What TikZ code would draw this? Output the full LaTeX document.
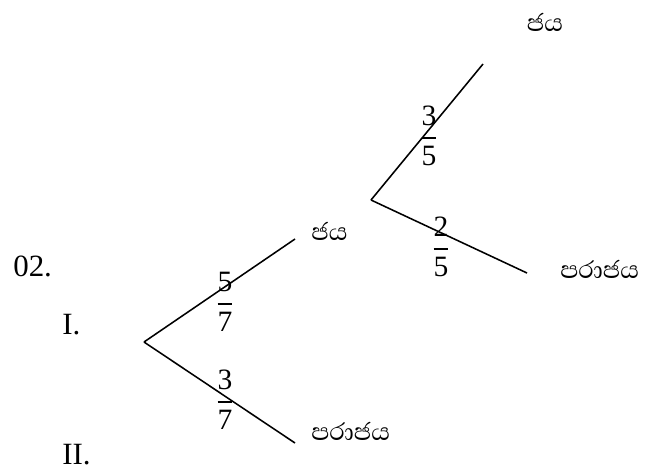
\documentclass[tikz,border=0pt]{standalone}
\usepackage{amsmath}
\usepackage{fontspec}
\setmainfont{Liberation Serif}
\newfontfamily\sinhala[Script=Sinhala]{Abhaya Libre}
\newcommand\pfrac[2]{$\genfrac{}{}{1.3pt}{0}{\textnormal{#1}}{\textnormal{#2}}$}
\tikzset{
  branch/.style={line width=1.1pt},
  outcome/.style={inner sep=0pt, font=\sinhala\fontsize{22}{24}\selectfont},
  prob/.style={inner sep=0pt, font=\fontsize{21}{24}\selectfont},
  qlabel/.style={inner sep=0pt, anchor=west, font=\fontsize{22}{24}\selectfont}
}
\begin{document}
\begin{tikzpicture}[x=0.025cm,y=-0.025cm]
\useasboundingbox (0,0) rectangle (648,475);
% question numbering
\node[qlabel] (q) at (13,266) {02.};
\node[qlabel] (qa) at (62,325) {I.};
\node[qlabel] (qb) at (62,455) {II.};
% first stage
\coordinate (r) at (144,342);
\coordinate (w1) at (295,239);
\coordinate (l1) at (295,443);
\draw[branch] (r) -- (w1);
\draw[branch] (r) -- (l1);
\node[outcome, anchor=west] (w1t) at (311,231) {ජය};
\node[outcome, anchor=west] (l1t) at (311,431) {පරාජය};
\node[prob] (p1) at (225,302) {\pfrac{5}{7}};
\node[prob] (p2) at (225,400) {\pfrac{3}{7}};
% second stage
\coordinate (r2) at (371,200);
\coordinate (w2) at (483,64);
\coordinate (l2) at (527,273);
\draw[branch] (r2) -- (w2);
\draw[branch] (r2) -- (l2);
\node[outcome] (w2t) at (545,22) {ජය};
\node[outcome, anchor=west] (l2t) at (560,269) {පරාජය};
\node[prob] (p3) at (429,136) {\pfrac{3}{5}};
\node[prob] (p4) at (441,247) {\pfrac{2}{5}};
\end{tikzpicture}
\end{document}
